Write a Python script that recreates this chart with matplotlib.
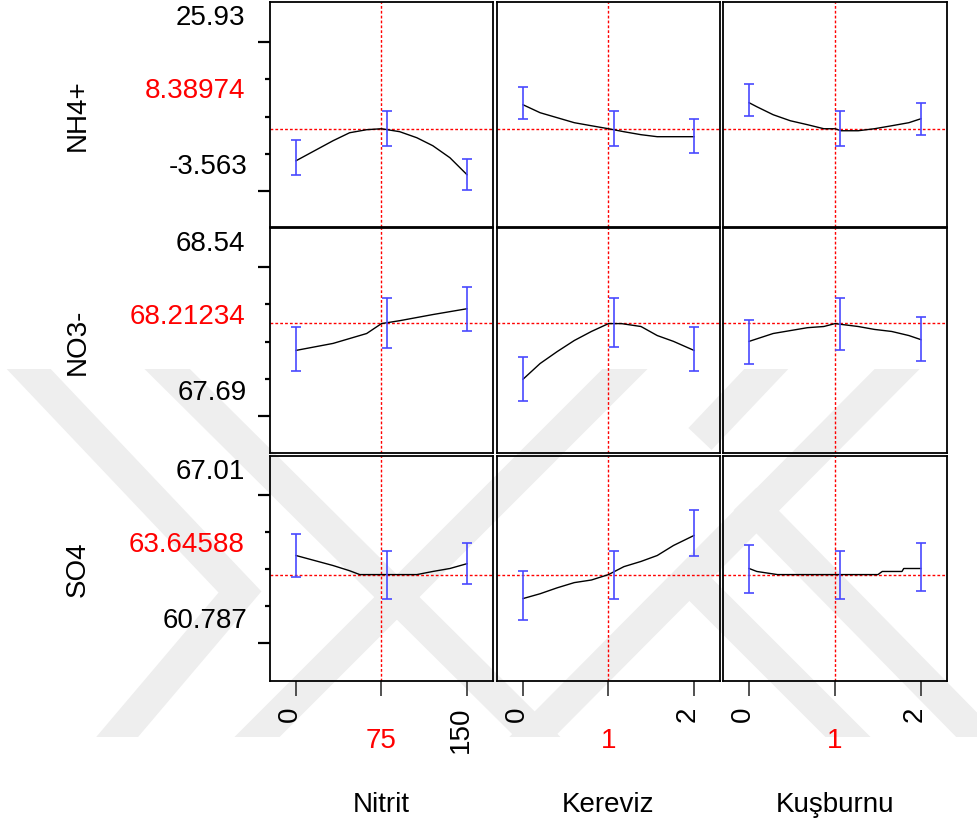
import numpy as np
import matplotlib
matplotlib.use("Agg")
import matplotlib.pyplot as plt
from matplotlib.patches import Rectangle

plt.rcParams['font.family'] = ['Liberation Sans', 'DejaVu Sans']

# responses (rows) and factors (columns)
responses = ["NH4+", "NO3-", "SO4"]
factors = ["Nitrit", "Kereviz", "Kuşburnu"]
factor_levels = [[0, 75, 150], [0, 1, 2], [0, 1, 2]]
current_x = [75, 1, 1]
current_y = [8.38974, 68.21234, 63.64588]

y_top_labels = ["25.93", "68.54", "67.01"]
y_cur_labels = ["8.38974", "68.21234", "63.64588"]
y_bot_labels = ["-3.563", "67.69", "60.787"]
y_limits = [(-4.8, 25.4), (67.768, 68.54), (60.78, 66.84)]
y_ticks = [[0, 5, 10, 15, 20],
           [67.894, 68.022, 68.150, 68.279, 68.407],
           [61.8, 62.8, 63.8, 64.8, 65.8]]

# --- NH4+ ---
nh4_nitrit_x = [0, 32.5, 47, 62, 75, 91, 106, 120, 135, 150]
nh4_nitrit_y = [4.09, 6.78, 7.85, 8.26, 8.39, 7.99, 7.18, 6.11, 4.50, 2.22]
nh4_nitrit_lo = [2.22, 6.11, 0.20]
nh4_nitrit_hi = [6.91, 10.81, 4.36]

nh4_kereviz_x = [0, 0.2, 0.4, 0.6, 0.8, 1.0, 1.18, 1.38, 1.57, 2.0]
nh4_kereviz_y = [11.61, 10.54, 9.87, 9.20, 8.79, 8.39, 7.99, 7.59, 7.32, 7.32]
nh4_kereviz_lo = [9.73, 6.11, 5.17]
nh4_kereviz_hi = [14.03, 10.81, 9.73]

nh4_kusburnu_x = [0, 0.09, 0.28, 0.48, 0.68, 0.87, 1.0, 1.07, 1.27, 1.46, 1.66, 1.86, 2.0]
nh4_kusburnu_y = [11.88, 11.34, 10.27, 9.46, 8.93, 8.39, 8.39, 8.12, 8.12, 8.39, 8.79, 9.20, 9.73]
nh4_kusburnu_lo = [10.13, 6.11, 7.59]
nh4_kusburnu_hi = [14.43, 10.81, 11.88]

# --- NO3- ---
no3_nitrit_x = [0, 32.5, 62, 75, 91, 120, 150]
no3_nitrit_y = [68.120, 68.144, 68.178, 68.212, 68.222, 68.243, 68.263]
no3_nitrit_lo = [68.048, 68.127, 68.185]
no3_nitrit_hi = [68.202, 68.301, 68.338]

no3_kereviz_x = [0, 0.2, 0.4, 0.6, 0.8, 1.0, 1.15, 1.38, 1.57, 1.76, 2.0]
no3_kereviz_y = [68.021, 68.075, 68.116, 68.154, 68.185, 68.212, 68.212, 68.202, 68.171, 68.151, 68.120]
no3_kereviz_lo = [67.946, 68.130, 68.048]
no3_kereviz_hi = [68.099, 68.301, 68.202]

no3_kusburnu_x = [0, 0.28, 0.68, 0.87, 1.0, 1.27, 1.46, 1.66, 1.86, 2.0]
no3_kusburnu_y = [68.151, 68.178, 68.198, 68.202, 68.212, 68.202, 68.192, 68.185, 68.171, 68.157]
no3_kusburnu_lo = [68.072, 68.120, 68.082]
no3_kusburnu_hi = [68.226, 68.301, 68.236]

# --- SO4 ---
so4_nitrit_x = [0, 32.5, 47, 56, 75, 106, 120, 135, 150]
so4_nitrit_y = [64.16, 63.89, 63.75, 63.646, 63.646, 63.646, 63.73, 63.81, 63.94]
so4_nitrit_lo = [63.59, 63.00, 63.38]
so4_nitrit_hi = [64.73, 64.29, 64.51]

so4_kereviz_x = [0, 0.2, 0.4, 0.6, 0.8, 1.0, 1.18, 1.38, 1.57, 1.76, 2.0]
so4_kereviz_y = [63.00, 63.13, 63.29, 63.43, 63.50, 63.646, 63.86, 64.00, 64.16, 64.43, 64.70]
so4_kereviz_lo = [62.43, 63.00, 64.16]
so4_kereviz_hi = [63.73, 64.29, 65.38]

so4_kusburnu_x = [0, 0.09, 0.33, 1.0, 1.5, 1.55, 1.78, 1.8, 2.0]
so4_kusburnu_y = [63.81, 63.73, 63.646, 63.646, 63.646, 63.73, 63.73, 63.81, 63.81]
so4_kusburnu_lo = [63.16, 63.00, 63.21]
so4_kusburnu_hi = [64.43, 64.29, 64.51]

curves = [
    [(nh4_nitrit_x, nh4_nitrit_y, nh4_nitrit_lo, nh4_nitrit_hi),
     (nh4_kereviz_x, nh4_kereviz_y, nh4_kereviz_lo, nh4_kereviz_hi),
     (nh4_kusburnu_x, nh4_kusburnu_y, nh4_kusburnu_lo, nh4_kusburnu_hi)],
    [(no3_nitrit_x, no3_nitrit_y, no3_nitrit_lo, no3_nitrit_hi),
     (no3_kereviz_x, no3_kereviz_y, no3_kereviz_lo, no3_kereviz_hi),
     (no3_kusburnu_x, no3_kusburnu_y, no3_kusburnu_lo, no3_kusburnu_hi)],
    [(so4_nitrit_x, so4_nitrit_y, so4_nitrit_lo, so4_nitrit_hi),
     (so4_kereviz_x, so4_kereviz_y, so4_kereviz_lo, so4_kereviz_hi),
     (so4_kusburnu_x, so4_kusburnu_y, so4_kusburnu_lo, so4_kusburnu_hi)],
]

# background watermark strokes (figure pixels)
watermark = [
    [(5, 345), (240, 593), (90, 770)],
    [(142, 345), (570, 770)],
    [(650, 345), (225, 770)],
    [(922, 345), (500, 770)],
    [(690, 580), (880, 770)],
    [(745, 500), (1010, 770)],
    [(790, 345), (700, 440)],
]

W, H = 977, 829
fig = plt.figure(figsize=(W / 100, H / 100), dpi=100)

bg = fig.add_axes([0, 0, 1, 1], zorder=0)
bg.set_xlim(0, W)
bg.set_ylim(H, 0)
bg.axis("off")
clip = Rectangle((0, 370), W, 368, transform=bg.transData)
for pts in watermark:
    xs, ys = zip(*pts)
    ln, = bg.plot(xs, ys, color="#eeeeee", lw=23, solid_capstyle="butt",
                  solid_joinstyle="miter")
    ln.set_clip_path(clip)

col_left = [270, 497, 723]
col_w = [223, 223, 224]
row_top = [3, 229, 457]
ph = 225
red = "#ff0000"
dash = (0, (2, 1.5))
tick_long = [True, False, False, False, True]

for r in range(3):
    for c in range(3):
        ax = fig.add_axes([col_left[c] / W, 1 - (row_top[r] + ph) / H, col_w[c] / W, ph / H],
                          zorder=1)
        ax.patch.set_alpha(0)
        lv = factor_levels[c]
        span = lv[-1] - lv[0]
        ax.set_xlim(lv[0] - 0.152 * span, lv[-1] + 0.152 * span)
        ax.set_ylim(*y_limits[r])
        for s in ax.spines.values():
            s.set_linewidth(1.3)
            s.set_color("black")

        xs, ys, lo, hi = curves[r][c]
        ax.axhline(current_y[r], color=red, lw=1, ls=dash, zorder=1)
        ax.axvline(current_x[c], color=red, lw=1, ls=dash, zorder=1)
        ax.plot(xs, ys, color="black", lw=1, zorder=3)

        bar_x = np.array(lv, dtype=float)
        bar_x[1] += 0.03 * span
        lo = np.array(lo)
        hi = np.array(hi)
        mid = (lo + hi) / 2
        ax.errorbar(bar_x, mid, yerr=[mid - lo, hi - mid], fmt="none",
                    ecolor="#4848ff", elinewidth=1.4, capsize=3.8, capthick=1.4,
                    alpha=0.85, zorder=4)

        # y axis only on first column
        if c == 0:
            ax.set_yticks(y_ticks[r])
            ax.tick_params(axis="y", direction="out", width=1.6, color="black",
                           labelleft=False)
            for t, is_long in zip(ax.yaxis.get_major_ticks(), tick_long[::-1]):
                t.tick1line.set_markersize(8.6 if is_long else 3.6)
            kw = dict(xycoords="axes fraction", textcoords="offset pixels",
                      ha="right", va="baseline", fontsize=20)
            ax.annotate(y_top_labels[r], xy=(0, 1), xytext=(-25, -22), **kw)
            ax.annotate(y_cur_labels[r], xy=(0, 1), xytext=(-25, -95), color=red, **kw)
            ax.annotate(y_bot_labels[r], xy=(0, 1), xytext=(-23, -171), **kw)
            ax.annotate(responses[r], xy=(0, 0.5), xycoords="axes fraction",
                        xytext=(-192, 0), textcoords="offset pixels",
                        rotation=90, ha="center", va="center", fontsize=20)
        else:
            ax.set_yticks([])

        # x axis only on bottom row
        if r == 2:
            ax.set_xticks(lv)
            ax.tick_params(axis="x", direction="out", length=10.8, width=1.2,
                           color="#333333", labelbottom=False)
            for v in (lv[0], lv[-1]):
                ax.annotate(str(v), xy=(v, 0), xycoords=("data", "axes fraction"),
                            xytext=(7, -25), textcoords="offset pixels",
                            rotation=90, ha="right", va="top", fontsize=20)
            ax.annotate(str(lv[1]), xy=(lv[1], 0), xycoords=("data", "axes fraction"),
                        xytext=(0, -66), textcoords="offset pixels",
                        ha="center", va="baseline", fontsize=20, color=red)
            ax.annotate(factors[c], xy=(0.5, 0), xycoords="axes fraction",
                        xytext=(0, -130), textcoords="offset pixels",
                        ha="center", va="baseline", fontsize=20)
        else:
            ax.set_xticks([])

fig.savefig("out.png", dpi=100, facecolor="white")
